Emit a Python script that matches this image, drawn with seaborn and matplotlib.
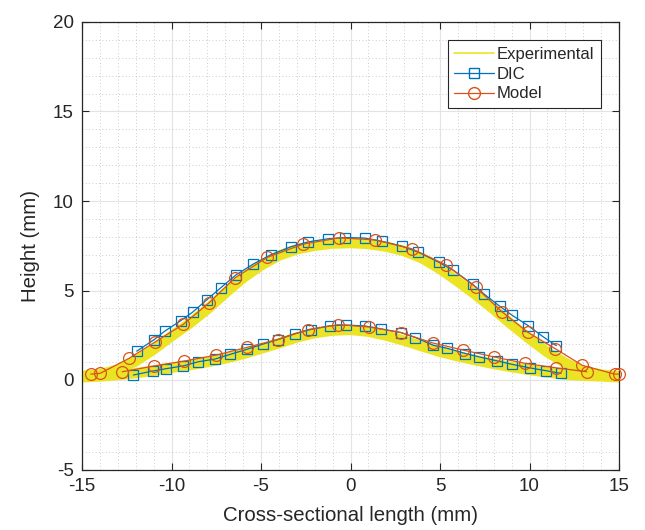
import numpy as np
import pandas as pd
import seaborn as sns
import matplotlib
matplotlib.use("Agg")
import matplotlib.pyplot as plt
from matplotlib.lines import Line2D
from matplotlib.ticker import MultipleLocator

# ---- data ----
exp_upper_x = [-15, -14, -13, -12, -11, -10, -9, -8, -7, -6, -5, -4, -3, -2, -1, 0,
               1, 2, 3, 4, 5, 6, 7, 8, 9, 10, 11, 12, 13, 14, 15]
exp_upper_y = [0.22, 0.32, 0.58, 1.05, 1.7, 2.45, 3.15, 3.95, 4.85, 5.7, 6.4, 6.95, 7.3,
               7.5, 7.62, 7.65, 7.6, 7.45, 7.2, 6.8, 6.2, 5.5, 4.75, 3.95, 3.1, 2.3,
               1.55, 0.95, 0.5, 0.3, 0.2]
exp_lower_x = [-15, -14, -13, -12, -11, -10, -9, -8, -7, -6, -5, -4, -3, -2, -1, 0,
               1, 2, 3, 4, 5, 6, 7, 8, 9, 10, 11, 12, 13, 14, 15]
exp_lower_y = [0.15, 0.2, 0.28, 0.38, 0.52, 0.68, 0.83, 1.0, 1.2, 1.45, 1.75, 2.05,
               2.38, 2.62, 2.76, 2.8, 2.7, 2.48, 2.2, 1.88, 1.58, 1.32, 1.1, 0.9,
               0.72, 0.56, 0.42, 0.3, 0.24, 0.2, 0.15]

dic_upper_x = [-11.94, -10.98, -10.39, -9.49, -8.82, -8.03, -7.25, -6.40, -5.43, -4.46,
               -3.34, -2.35, -1.24, -0.28, 0.79, 1.74, 2.89, 3.79, 4.93, 5.74, 6.82,
               7.44, 8.35, 9.04, 9.92, 10.74, 11.50]
dic_upper_y = [1.61, 2.25, 2.72, 3.31, 3.79, 4.48, 5.15, 5.87, 6.48, 6.99, 7.44, 7.72,
               7.89, 7.96, 7.93, 7.75, 7.47, 7.14, 6.58, 6.13, 5.35, 4.82, 4.11, 3.61,
               3.04, 2.43, 1.92]
dic_lower_x = [-12.13, -11.05, -10.31, -9.34, -8.50, -7.57, -6.73, -5.80, -4.91, -4.05,
               -3.10, -2.22, -1.15, -0.23, 0.81, 1.70, 2.82, 3.63, 4.63, 5.37, 6.42,
               7.19, 8.18, 9.04, 10.0, 10.92, 11.76]
dic_lower_y = [0.28, 0.50, 0.63, 0.79, 1.02, 1.17, 1.43, 1.71, 2.00, 2.26, 2.59, 2.82,
               3.03, 3.07, 3.02, 2.86, 2.65, 2.37, 1.94, 1.78, 1.48, 1.29, 1.07, 0.87,
               0.68, 0.52, 0.37]

model_upper_x = [-14.51, -13.99, -12.37, -10.91, -9.34, -7.89, -6.45, -4.65, -2.65,
                 -0.63, 1.37, 3.42, 5.36, 7.01, 8.45, 9.90, 11.45, 12.95, 14.75, 14.98]
model_upper_y = [0.33, 0.37, 1.21, 2.13, 3.11, 4.32, 5.71, 6.85, 7.59, 7.94, 7.83,
                 7.33, 6.42, 5.17, 3.82, 2.67, 1.74, 0.82, 0.33, 0.33]
model_lower_x = [-12.75, -10.99, -9.28, -7.51, -5.80, -4.07, -2.36, -0.68, 1.05, 2.82,
                 4.59, 6.30, 8.02, 9.75, 11.48, 13.20]
model_lower_y = [0.46, 0.78, 1.06, 1.39, 1.82, 2.26, 2.82, 3.09, 2.96, 2.65, 2.07,
                 1.67, 1.29, 0.93, 0.68, 0.46]

x_ticks = [-15, -10, -5, 0, 5, 10, 15]
y_ticks = [-5, 0, 5, 10, 15, 20]

YELLOW = "#ebe424"
BLUE = "#0072BD"
ORANGE = "#D95319"

sns.set_theme(style="white")
plt.rcParams['font.family'] = ['Liberation Sans', 'DejaVu Sans']

fig = plt.figure(figsize=(6.45, 5.30), dpi=100)
ax = fig.add_axes([82 / 645, 1 - 469.5 / 530, 537 / 645, 447.5 / 530])

# experimental band (thick yellow lines)
for ex, ey in [(exp_upper_x, exp_upper_y), (exp_lower_x, exp_lower_y)]:
    sns.lineplot(x=ex, y=ey, ax=ax, color=YELLOW, lw=7.5, sort=False,
                 estimator=None, solid_capstyle='butt', zorder=2)

# DIC
for dx, dy in [(dic_upper_x, dic_upper_y), (dic_lower_x, dic_lower_y)]:
    df = pd.DataFrame({"x": dx, "y": dy})
    sns.lineplot(data=df, x="x", y="y", ax=ax, color=BLUE, lw=0.9, sort=False,
                 estimator=None, marker='s', markersize=6.5, markerfacecolor='none',
                 markeredgecolor=BLUE, markeredgewidth=0.9, zorder=3)

# Model
for mx, my in [(model_upper_x, model_upper_y), (model_lower_x, model_lower_y)]:
    df = pd.DataFrame({"x": mx, "y": my})
    sns.lineplot(data=df, x="x", y="y", ax=ax, color=ORANGE, lw=0.9, sort=False,
                 estimator=None, marker='o', markersize=8.5, markerfacecolor='none',
                 markeredgecolor=ORANGE, markeredgewidth=0.9, zorder=4, clip_on=False)

ax.set_xlim(-15, 15)
ax.set_ylim(-5, 20)
ax.set_xticks(x_ticks)
ax.set_yticks(y_ticks)
ax.set_xticklabels([str(t) for t in x_ticks])
ax.set_yticklabels([str(t) for t in y_ticks])
ax.xaxis.set_minor_locator(MultipleLocator(1))
ax.yaxis.set_minor_locator(MultipleLocator(1))
ax.grid(True, which='major', color='#e3e3e3', lw=0.8, ls='-', zorder=0)
ax.grid(True, which='minor', color='#bdbdbd', lw=0.6, ls=(0, (1, 3)), zorder=0)
ax.set_axisbelow(True)

for s in ax.spines.values():
    s.set_color('#262626')
    s.set_linewidth(0.9)
    s.set_visible(True)
ax.tick_params(which='major', direction='in', length=5, width=0.8, color='#262626',
               labelsize=13.5, labelcolor='#262626', top=True, right=True,
               bottom=True, left=True, pad=6)
ax.tick_params(which='minor', length=0, top=False, right=False, bottom=False, left=False)

ax.set_xlabel("Cross-sectional length (mm)", fontsize=14.7, color='#262626', labelpad=8)
ax.set_ylabel("Height (mm)", fontsize=14.7, color='#262626', labelpad=9)

handles = [
    Line2D([], [], color=YELLOW, lw=1.2),
    Line2D([], [], color=BLUE, lw=0.9, marker='s', markersize=6.5,
           markerfacecolor='none', markeredgecolor=BLUE),
    Line2D([], [], color=ORANGE, lw=0.9, marker='o', markersize=8.5,
           markerfacecolor='none', markeredgecolor=ORANGE),
]
leg = ax.legend(handles, ["Experimental", "DIC", "Model"], loc='upper right',
                bbox_to_anchor=(0.9665, 0.959), fontsize=12, frameon=True,
                fancybox=False, edgecolor='#262626', framealpha=1,
                handlelength=2.4, handletextpad=0.15, borderpad=0.4,
                labelspacing=0.28, borderaxespad=0)
leg.get_frame().set_linewidth(0.8)

fig.savefig("out.png", dpi=100)
